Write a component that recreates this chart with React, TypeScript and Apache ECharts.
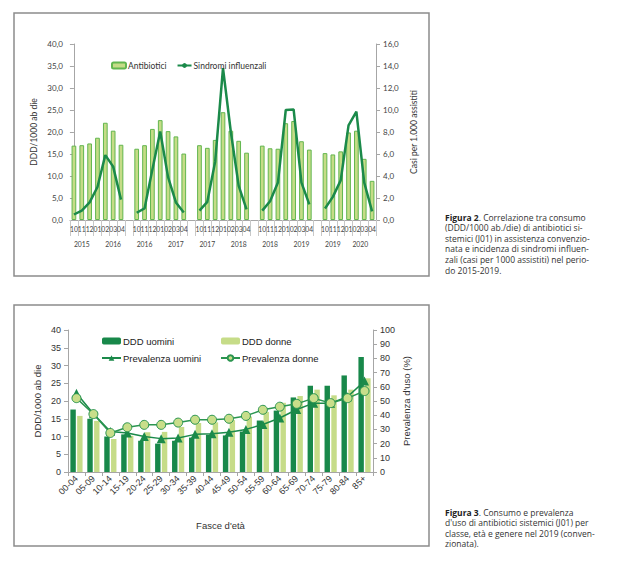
import React, { useEffect, useRef } from "react";
import * as echarts from "echarts";

// ---------- Figure 2 data ----------
const MONTHS = ["10", "11", "12", "01", "02", "03", "04"];
const SEASON_YEARS = [
  ["2015", "2016"],
  ["2016", "2017"],
  ["2017", "2018"],
  ["2018", "2019"],
  ["2019", "2020"],
];
const ANTIBIOTICI = [
  [16.9, 17.0, 17.4, 18.7, 22.1, 20.3, 17.1],
  [16.2, 17.0, 20.7, 22.7, 20.2, 19.0, 15.1],
  [17.0, 16.4, 18.2, 24.5, 20.3, 18.0, 15.3],
  [16.9, 16.3, 16.2, 22.0, 22.5, 17.9, 16.0],
  [15.2, 14.9, 15.6, 19.9, 20.3, 13.9, 8.9],
];
const SINDROMI = [
  [0.5, 0.85, 1.6, 3.0, 5.9, 4.85, 1.85],
  [0.66, 1.05, 4.6, 8.05, 3.9, 1.6, 0.68],
  [0.85, 1.65, 5.3, 13.8, 8.0, 3.1, 0.97],
  [0.85, 1.7, 3.4, 10.0, 10.05, 3.4, 1.42],
  [1.05, 2.1, 3.6, 8.6, 9.85, 3.4, 0.78],
];

// ---------- Figure 3 data ----------
const AGE_BANDS = [
  "00-04", "05-09", "10-14", "15-19", "20-24", "25-29", "30-34", "35-39", "40-44",
  "45-49", "50-54", "55-59", "60-64", "65-69", "70-74", "75-79", "80-84", "85+",
];
const DDD_UOMINI = [17.6, 15.0, 10.0, 10.6, 8.8, 8.0, 8.8, 9.7, 10.5, 10.3, 11.4, 14.5, 17.3, 21.0, 24.3, 24.3, 27.2, 32.4];
const DDD_DONNE = [15.8, 14.4, 9.3, 10.2, 11.2, 11.3, 12.7, 13.8, 14.0, 14.6, 15.6, 16.9, 19.5, 21.4, 23.2, 21.6, 23.2, 26.4];
const PREV_UOMINI = [55.5, 41, 28.5, 27.5, 25, 23.5, 24, 26.5, 27, 28, 30, 33.5, 38, 44, 48.5, 48.5, 53, 64];
const PREV_DONNE = [52, 40.8, 27.5, 31.5, 33.2, 33.2, 34.8, 36.8, 36.8, 37.5, 39.5, 43.8, 46, 48, 52, 48.5, 52, 57];

const CAPTION2 = [
  "{b|Figura 2}. Correlazione tra consumo",
  "(DDD/1000 ab./die) di antibiotici si-",
  "stemici (J01) in assistenza convenzio-",
  "nata e incidenza di sindromi influen-",
  "zali (casi per 1000 assistiti) nel perio-",
  "do 2015-2019.",
];
const CAPTION3 = [
  "{b|Figura 3}. Consumo e prevalenza",
  "d'uso di antibiotici sistemici (J01) per",
  "classe, età e genere nel 2019 (conven-",
  "zionata).",
];

const comma = (v: number) => v.toFixed(1).replace(".", ",");

export default function App() {
  const ref = useRef<HTMLDivElement>(null);
  useEffect(() => {
    if (!ref.current) return;
    const chart = echarts.init(ref.current, null, { renderer: "svg" });

    // categories for Figure 2 (with one empty slot between seasons)
    const cats: string[] = [];
    const bars: (number | null)[] = [];
    const lines: (number | null)[] = [];
    SEASON_YEARS.forEach((_, s) => {
      MONTHS.forEach((m, i) => {
        cats.push(s + "-" + m);
        bars.push(ANTIBIOTICI[s][i]);
        lines.push(SINDROMI[s][i]);
      });
      if (s < SEASON_YEARS.length - 1) {
        cats.push("gap" + s);
        bars.push(null);
        lines.push(null);
      }
    });
    const n = cats.length;
    const yearCenters: number[] = [];
    const yearNames: Record<string, string> = {};
    const yearTicks: number[] = [-0.5];
    SEASON_YEARS.forEach((ys, s) => {
      const start = 8 * s - 0.5;
      const split = 8 * s + 2.5;
      const end = s < SEASON_YEARS.length - 1 ? 8 * s + 7.5 : 8 * s + 6.5;
      const c1 = (start + split) / 2;
      const c2 = (split + end) / 2;
      yearCenters.push(c1, c2);
      yearNames[c1.toFixed(2)] = ys[0];
      yearNames[c2.toFixed(2)] = ys[1];
      yearTicks.push(split, end);
    });

    const topFont = "Lato, 'Open Sans', sans-serif";
    const botFont = "'Liberation Sans', Arial, sans-serif";
    const capFont = "'Open Sans', 'Noto Sans', sans-serif";
    const axisGray = "#a6a6a6";

    const captionTexts: any[] = [];
    const addCaption = (lines: string[], y0: number) => {
      lines.forEach((t, i) => {
        captionTexts.push({
          type: "text",
          x: 445,
          y: y0 + i * 10.6,
          style: {
            text: t,
            fontSize: 8.5,
            fontFamily: capFont,
            fill: "#333",
            textVerticalAlign: "middle",
            rich: { b: { fontWeight: "bold", fontSize: 8.5, fontFamily: capFont, fill: "#222" } },
          },
        });
      });
    };
    addCaption(CAPTION2, 217);
    addCaption(CAPTION3, 512);

    const option: any = {
      animation: false,
      backgroundColor: "#fff",
      grid: [
        { left: 70, top: 44, width: 306, height: 176 },
        { left: 68, top: 330, width: 305, height: 142 },
      ],
      legend: [
        {
          data: ["Antibiotici", "Sindromi influenzali"],
          left: 106,
          top: 56,
          itemWidth: 14,
          itemHeight: 6,
          itemGap: 10,
          textStyle: { fontSize: 8.5, fontFamily: topFont, color: "#333", padding: [0, 0, 0, -3] },
        },
        {
          data: ["DDD uomini", "Prevalenza uomini"],
          orient: "vertical",
          left: 96,
          top: 331,
          itemWidth: 19,
          itemHeight: 7,
          itemGap: 7,
          textStyle: { fontSize: 9.5, fontFamily: botFont, color: "#222", padding: [0, 0, 0, -3] },
        },
        {
          data: ["DDD donne", "Prevalenza donne"],
          orient: "vertical",
          left: 215,
          top: 331,
          itemWidth: 19,
          itemHeight: 7,
          itemGap: 7,
          textStyle: { fontSize: 9.5, fontFamily: botFont, color: "#222", padding: [0, 0, 0, -3] },
        },
      ],
      xAxis: [
        {
          type: "category",
          gridIndex: 0,
          data: cats,
          boundaryGap: true,
          axisLine: { lineStyle: { color: axisGray } },
          axisTick: { show: true, interval: 0, length: 16, lineStyle: { color: "#c8c8c8" } },
          axisLabel: {
            interval: 0,
            margin: 5,
            fontSize: 6.8,
            fontFamily: topFont,
            color: "#444",
            formatter: (v: string) => (v.startsWith("gap") ? "" : v.split("-")[1]),
          },
        },
        {
          type: "value",
          gridIndex: 0,
          min: -0.5,
          max: n - 0.5,
          position: "bottom",
          offset: 16,
          axisLine: { show: false },
          splitLine: { show: false },
          axisTick: { show: true, customValues: yearTicks, length: 13, lineStyle: { color: "#c8c8c8" } },
          axisLabel: {
            customValues: yearCenters,
            margin: 4,
            fontSize: 6.8,
            fontFamily: topFont,
            color: "#444",
            formatter: (v: number) => yearNames[v.toFixed(2)] || "",
          },
        },
        {
          type: "category",
          gridIndex: 1,
          data: AGE_BANDS,
          name: "Fasce d'età",
          nameLocation: "middle",
          nameGap: 48,
          nameTextStyle: { fontSize: 9.5, fontFamily: botFont, color: "#333" },
          axisLine: { lineStyle: { color: axisGray } },
          axisTick: { show: true, interval: 0, length: 4, lineStyle: { color: axisGray } },
          axisLabel: {
            interval: 0,
            rotate: 45,
            margin: 5,
            fontSize: 9,
            fontFamily: botFont,
            color: "#333",
          },
        },
      ],
      yAxis: [
        {
          type: "value",
          gridIndex: 0,
          min: 0,
          max: 40,
          interval: 5,
          name: "DDD/1000 ab die",
          nameLocation: "middle",
          nameRotate: 90,
          nameGap: 32,
          nameTextStyle: { fontSize: 8.5, fontFamily: topFont, color: "#333" },
          axisLine: { show: true, lineStyle: { color: axisGray } },
          axisTick: { show: true, length: 4, lineStyle: { color: axisGray } },
          splitLine: { show: false },
          axisLabel: { fontSize: 8, fontFamily: topFont, color: "#444", margin: 7, formatter: comma },
        },
        {
          type: "value",
          gridIndex: 0,
          position: "right",
          min: 0,
          max: 16,
          interval: 2,
          name: "Casi per 1.000 assistiti",
          nameLocation: "middle",
          nameRotate: 90,
          nameGap: 33,
          nameTextStyle: { fontSize: 8.5, fontFamily: topFont, color: "#333" },
          axisLine: { show: true, lineStyle: { color: axisGray } },
          axisTick: { show: true, length: 4, lineStyle: { color: axisGray } },
          splitLine: { show: false },
          axisLabel: { fontSize: 8, fontFamily: topFont, color: "#444", margin: 7, formatter: comma },
        },
        {
          type: "value",
          gridIndex: 1,
          min: 0,
          max: 40,
          interval: 5,
          name: "DDD/1000 ab die",
          nameLocation: "middle",
          nameRotate: 90,
          nameGap: 26,
          nameTextStyle: { fontSize: 9.5, fontFamily: botFont, color: "#333" },
          axisLine: { show: true, lineStyle: { color: axisGray } },
          axisTick: { show: true, length: 4, lineStyle: { color: axisGray } },
          splitLine: { show: false },
          axisLabel: { fontSize: 9, fontFamily: botFont, color: "#333", margin: 7 },
        },
        {
          type: "value",
          gridIndex: 1,
          position: "right",
          min: 0,
          max: 100,
          interval: 10,
          name: "Prevalenza d'uso (%)",
          nameLocation: "middle",
          nameRotate: 90,
          nameGap: 28,
          nameTextStyle: { fontSize: 9.5, fontFamily: botFont, color: "#333" },
          axisLine: { show: true, lineStyle: { color: axisGray } },
          axisTick: { show: true, length: 4, lineStyle: { color: axisGray } },
          splitLine: { show: false },
          axisLabel: { fontSize: 9, fontFamily: botFont, color: "#333", margin: 7 },
        },
      ],
      series: [
        {
          name: "Antibiotici",
          type: "bar",
          xAxisIndex: 0,
          yAxisIndex: 0,
          data: bars,
          barWidth: "60%",
          itemStyle: { color: "#c5dc87", borderColor: "#62b64f", borderWidth: 1 },
        },
        {
          name: "Sindromi influenzali",
          type: "line",
          xAxisIndex: 0,
          yAxisIndex: 1,
          data: lines,
          symbol: "none",
          lineStyle: { color: "#1b8a4a", width: 2.5 },
          itemStyle: { color: "#1b8a4a" },
        },
        {
          name: "DDD uomini",
          type: "bar",
          xAxisIndex: 2,
          yAxisIndex: 2,
          data: DDD_UOMINI,
          barGap: "25%",
          barCategoryGap: "28%",
          itemStyle: { color: "#18884a" },
        },
        {
          name: "DDD donne",
          type: "bar",
          xAxisIndex: 2,
          yAxisIndex: 2,
          data: DDD_DONNE,
          barGap: "25%",
          barCategoryGap: "28%",
          itemStyle: { color: "#c6dc88" },
        },
        {
          name: "Prevalenza uomini",
          type: "line",
          xAxisIndex: 2,
          yAxisIndex: 3,
          data: PREV_UOMINI,
          symbol: "triangle",
          symbolSize: 9,
          lineStyle: { color: "#1b8a4a", width: 1.5 },
          itemStyle: { color: "#1b8a4a" },
        },
        {
          name: "Prevalenza donne",
          type: "line",
          xAxisIndex: 2,
          yAxisIndex: 3,
          data: PREV_DONNE,
          symbol: "circle",
          symbolSize: 9,
          lineStyle: { color: "#2b9550", width: 1.5 },
          itemStyle: { color: "#c8de8a", borderColor: "#2b9550", borderWidth: 1 },
        },
      ],
      graphic: [
        {
          type: "rect",
          shape: { x: 14, y: 13, width: 415, height: 263 },
          style: { fill: "none", stroke: "#8c8c8c", lineWidth: 1.5 },
          silent: true,
        },
        {
          type: "rect",
          shape: { x: 14, y: 305, width: 415, height: 241 },
          style: { fill: "none", stroke: "#8c8c8c", lineWidth: 1.5 },
          silent: true,
        },
        ...captionTexts,
      ],
    };
    chart.setOption(option);
    return () => chart.dispose();
  }, []);

  return (
    <div
      ref={ref}
      style={{ position: "absolute", left: 0, top: 0, width: 619, height: 567, background: "#fff" }}
    />
  );
}
